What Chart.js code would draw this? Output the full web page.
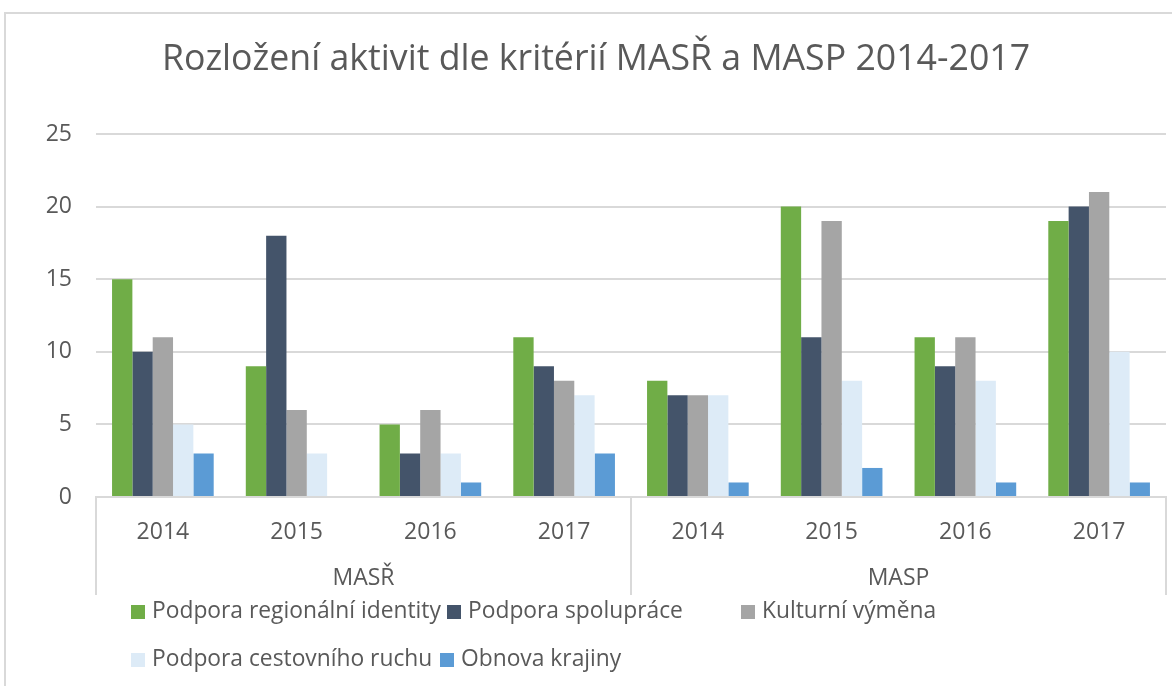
<!DOCTYPE html>
<html>
<head>
<meta charset="utf-8">
<script src="https://cdn.jsdelivr.net/npm/chart.js@4.4.0/dist/chart.umd.min.js"></script>
<style>
  html, body { margin: 0; padding: 0; background: #ffffff; }
  #wrap { position: relative; width: 1172px; height: 686px; overflow: hidden; }
  #frame { position: absolute; left: 4px; top: 12px; width: 1200px; height: 700px; border: 2px solid #d9d9d9; box-sizing: border-box; }
  canvas { position: absolute; left: 0; top: 0; }
</style>
</head>
<body>
<div id="wrap">
  <div id="frame"></div>
  <canvas id="c" width="1172" height="686"></canvas>
</div>
<script>
const title = 'Rozložení aktivit dle kritérií MASŘ a MASP 2014-2017';
const groups = ['MASŘ', 'MASP'];
const years = ['2014', '2015', '2016', '2017', '2014', '2015', '2016', '2017'];
const seriesNames = ['Podpora regionální identity', 'Podpora spolupráce', 'Kulturní výměna', 'Podpora cestovního ruchu', 'Obnova krajiny'];
const regionalniIdentita = [15, 9, 5, 11, 8, 20, 11, 19];
const spoluprace = [10, 18, 3, 9, 7, 11, 9, 20];
const kulturniVymena = [11, 6, 6, 8, 7, 19, 11, 21];
const cestovniRuch = [5, 3, 3, 7, 7, 8, 8, 10];
const obnovaKrajiny = [3, 0, 1, 3, 1, 2, 1, 1];
const yTicks = [0, 5, 10, 15, 20, 25];

const colors = ['#70ad47', '#44546a', '#a5a5a5', '#ddebf7', '#5b9bd5'];
const seriesValues = [regionalniIdentita, spoluprace, kulturniVymena, cestovniRuch, obnovaKrajiny];
const FONT = "'Open Sans', sans-serif";
const TEXT = '#595959';
const GRID = '#d9d9d9';

const legendPos = [[131, 612], [447, 612], [741, 612], [131, 660], [440, 660]];

const decorPlugin = {
  id: 'decor',
  afterDraw(chart) {
    const ctx = chart.ctx;
    const x = chart.scales.x;
    const area = chart.chartArea;
    ctx.save();
    // title
    ctx.fillStyle = TEXT;
    ctx.font = '35.7px ' + FONT;
    ctx.textAlign = 'center';
    ctx.textBaseline = 'middle';
    ctx.fillText(title, 596, 60);
    // group separators
    const half = (x.getPixelForValue(1) - x.getPixelForValue(0)) / 2;
    const bounds = [x.getPixelForValue(0) - half, (x.getPixelForValue(3) + x.getPixelForValue(4)) / 2, x.getPixelForValue(7) + half];
    ctx.strokeStyle = GRID;
    ctx.lineWidth = 2;
    bounds.forEach(b => {
      ctx.beginPath();
      ctx.moveTo(Math.round(b), area.bottom);
      ctx.lineTo(Math.round(b), 595);
      ctx.stroke();
    });
    // legend
    ctx.font = '22.8px ' + FONT;
    ctx.textAlign = 'left';
    ctx.textBaseline = 'middle';
    chart.data.datasets.forEach((ds, i) => {
      const [lx, ly] = legendPos[i];
      ctx.fillStyle = ds.backgroundColor;
      ctx.fillRect(lx, ly - 7, 14, 14);
      ctx.fillStyle = TEXT;
      ctx.fillText(ds.label, lx + 21, ly);
    });
    ctx.restore();
  }
};

new Chart(document.getElementById('c'), {
  type: 'bar',
  data: {
    labels: years,
    datasets: seriesNames.map((n, i) => ({
      label: n,
      data: seriesValues[i],
      backgroundColor: colors[i],
      borderWidth: 0,
      categoryPercentage: 0.76,
      barPercentage: 1.0
    }))
  },
  options: {
    responsive: false,
    animation: false,
    layout: { padding: { left: 0, right: 6, top: 134, bottom: 91 } },
    plugins: { legend: { display: false }, title: { display: false }, tooltip: { enabled: false } },
    scales: {
      x: {
        type: 'category',
        position: 'bottom',
        grid: { display: false, drawTicks: false },
        border: { display: true, color: GRID, width: 2 },
        ticks: { color: TEXT, font: { family: FONT, size: 23 }, padding: 22, maxRotation: 0, autoSkip: false },
        afterFit(s) { s.height = 48; }
      },
      x2: {
        type: 'category',
        position: 'bottom',
        labels: groups,
        offset: true,
        grid: { display: false, drawTicks: false },
        border: { display: false },
        ticks: { color: TEXT, font: { family: FONT, size: 23 }, padding: 20, maxRotation: 0 },
        afterFit(s) { s.height = 50; }
      },
      y: {
        min: 0, max: 25,
        afterBuildTicks(s) { s.ticks = yTicks.map(v => ({ value: v })); },
        grid: { color: GRID, lineWidth: 2, drawTicks: false },
        border: { display: false },
        ticks: { color: TEXT, font: { family: FONT, size: 23 }, padding: 24 },
        afterFit(s) { s.width = 96; }
      }
    }
  },
  plugins: [decorPlugin]
});
</script>
</body>
</html>
